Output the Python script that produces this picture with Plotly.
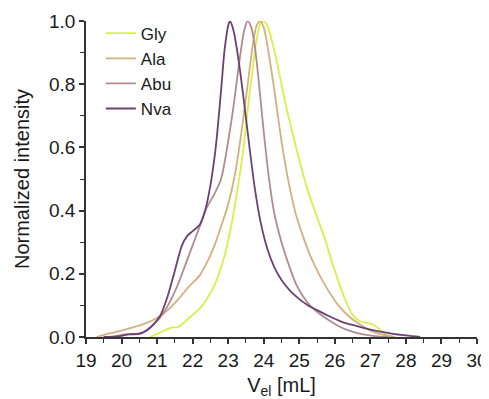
import plotly.graph_objects as go

# Elution volume (mL) and normalized intensity for each sample
gly_x = [20.8, 21.0, 21.2, 21.4, 21.6, 21.8, 22.0, 22.2, 22.4, 22.6, 22.8, 22.95, 23.1, 23.25, 23.4, 23.55, 23.7, 23.8, 23.9, 24.0, 24.1, 24.2, 24.35, 24.5, 24.65, 24.8, 25.0, 25.25, 25.5, 25.75, 26.0, 26.25, 26.5, 26.7, 26.9, 27.1, 27.25, 27.4, 27.6]
gly_y = [0.0, 0.01, 0.02, 0.03, 0.032, 0.05, 0.07, 0.09, 0.12, 0.16, 0.22, 0.28, 0.36, 0.46, 0.57, 0.72, 0.86, 0.94, 0.99, 1.0, 0.985, 0.95, 0.88, 0.80, 0.72, 0.65, 0.56, 0.46, 0.38, 0.30, 0.21, 0.13, 0.07, 0.05, 0.045, 0.038, 0.025, 0.01, 0.0]

ala_x = [19.3, 19.6, 20.0, 20.3, 20.6, 21.0, 21.3, 21.6, 21.9, 22.2, 22.4, 22.6, 22.8, 23.0, 23.2, 23.4, 23.55, 23.7, 23.8, 23.9, 24.0, 24.15, 24.3, 24.5, 24.7, 24.9, 25.1, 25.3, 25.55, 25.8, 26.1, 26.4, 26.7, 27.0, 27.3, 27.7]
ala_y = [0.0, 0.01, 0.02, 0.03, 0.04, 0.06, 0.085, 0.12, 0.16, 0.195, 0.235, 0.285, 0.35, 0.42, 0.52, 0.67, 0.80, 0.93, 0.985, 1.0, 0.98, 0.89, 0.78, 0.62, 0.49, 0.39, 0.32, 0.26, 0.20, 0.15, 0.10, 0.065, 0.04, 0.02, 0.008, 0.0]

abu_x = [19.5, 19.8, 20.1, 20.4, 20.6, 20.8, 21.0, 21.2, 21.4, 21.6, 21.8, 22.0, 22.2, 22.4, 22.6, 22.8, 23.0, 23.15, 23.3, 23.45, 23.55, 23.65, 23.75, 23.85, 24.0, 24.15, 24.3, 24.5, 24.7, 24.9, 25.1, 25.3, 25.5, 25.8, 26.1, 26.4, 26.8, 27.2, 27.5]
abu_y = [0.0, 0.002, 0.008, 0.01, 0.015, 0.03, 0.05, 0.08, 0.12, 0.17, 0.23, 0.29, 0.35, 0.41, 0.45, 0.50, 0.62, 0.73, 0.86, 0.97, 1.0, 0.98, 0.92, 0.82, 0.65, 0.50, 0.39, 0.30, 0.23, 0.17, 0.13, 0.10, 0.08, 0.055, 0.035, 0.02, 0.008, 0.002, 0.0]

nva_x = [19.5, 19.9, 20.2, 20.5, 20.7, 20.9, 21.1, 21.3, 21.5, 21.7, 21.85, 22.0, 22.2, 22.35, 22.5, 22.65, 22.8, 22.9, 23.0, 23.05, 23.15, 23.3, 23.45, 23.6, 23.75, 23.9, 24.1, 24.3, 24.5, 24.75, 25.0, 25.25, 25.5, 25.8, 26.2, 26.6, 27.1, 27.6, 28.0, 28.4]
nva_y = [0.0, 0.002, 0.008, 0.01, 0.02, 0.04, 0.07, 0.13, 0.21, 0.29, 0.32, 0.335, 0.355, 0.40, 0.48, 0.60, 0.78, 0.91, 0.985, 1.0, 0.97, 0.87, 0.74, 0.60, 0.47, 0.37, 0.28, 0.22, 0.18, 0.145, 0.12, 0.10, 0.085, 0.068, 0.048, 0.035, 0.021, 0.011, 0.005, 0.0]

series = [
    ("Gly", gly_x, gly_y, "#d8f04a"),
    ("Ala", ala_x, ala_y, "#d4b07e"),
    ("Abu", abu_x, abu_y, "#b08c8c"),
    ("Nva", nva_x, nva_y, "#6a4272"),
]

x_ticks = list(range(19, 31))
y_ticks = [0.0, 0.2, 0.4, 0.6, 0.8, 1.0]

fig = go.Figure()
for name, xs, ys, col in series:
    fig.add_trace(go.Scatter(x=xs, y=ys, mode="lines", name=name,
                             line=dict(color=col, width=1.8, shape="spline", smoothing=0.8)))

font = "Liberation Sans, Arial, sans-serif"
fig.update_layout(
    width=481, height=391,
    margin=dict(l=78, r=12, t=13, b=62, autoexpand=False),
    paper_bgcolor="white", plot_bgcolor="white",
    font=dict(family=font, size=19, color="#1a1a1a"),
    legend=dict(x=0.038, y=1.017, xanchor="left", yanchor="top",
                bgcolor="rgba(0,0,0,0)", font=dict(size=17),
                tracegroupgap=0, itemwidth=30),
    xaxis=dict(range=[19, 30], tickvals=x_ticks, ticktext=[str(v) for v in x_ticks],
               automargin=False,
               showgrid=False, zeroline=False, showline=True, linecolor="#333", linewidth=1.5,
               ticks="outside", ticklen=5, tickwidth=1.5, tickcolor="#333",
               minor=dict(dtick=0.5, ticks="outside", ticklen=4, tickwidth=1.2, tickcolor="#333"),
               title=dict(text="V<sub>el</sub> [mL]", font=dict(size=20), standoff=10),
               tickfont=dict(size=19)),
    yaxis=dict(range=[0, 1.0], tickvals=y_ticks, ticktext=[f"{v:.1f}" for v in y_ticks],
               automargin=False,
               showgrid=False, zeroline=False, showline=True, linecolor="#333", linewidth=1.5,
               ticks="outside", ticklen=5, tickwidth=1.5, tickcolor="#333",
               minor=dict(dtick=0.1, ticks="outside", ticklen=4, tickwidth=1.2, tickcolor="#333"),
               title=dict(text="Normalized intensity", font=dict(size=20), standoff=14),
               tickfont=dict(size=19)),
)
fig.write_html("out.html")
